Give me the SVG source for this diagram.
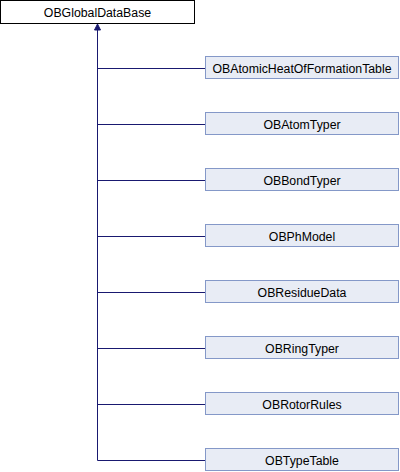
<svg xmlns="http://www.w3.org/2000/svg" width="400" height="472" viewBox="0 0 400 472">
<style>
.n rect{fill:#e8ecf5;stroke:#8498c8;stroke-width:1}
.r rect{fill:#ffffff;stroke:#000000;stroke-width:1}
text{font-family:"Liberation Sans",Arial,sans-serif;font-size:12.3px;text-anchor:middle;fill:#000000}
.e{stroke:#191970;stroke-width:1;fill:none}
</style>
<g id="connectors">
<path class="e" d="M97.5,29 V460.5"/>
<polygon points="97.5,24 94.5,30 100.5,30" fill="#191970" stroke="#191970"/>
<path class="e" d="M97.5,68.5 H205"/>
<path class="e" d="M97.5,124.5 H205"/>
<path class="e" d="M97.5,180.5 H205"/>
<path class="e" d="M97.5,236.5 H205"/>
<path class="e" d="M97.5,292.5 H205"/>
<path class="e" d="M97.5,348.5 H205"/>
<path class="e" d="M97.5,404.5 H205"/>
<path class="e" d="M97.5,460.5 H205"/>
</g>
<g id="OBGlobalDataBase" class="r"><rect x="0.5" y="0.5" width="194" height="23"/><text x="97.5" y="16.5">OBGlobalDataBase</text></g>
<g id="OBAtomicHeatOfFormationTable" class="n"><rect x="205.5" y="56.5" width="193" height="22"/><text x="302" y="72.5">OBAtomicHeatOfFormationTable</text></g>
<g id="OBAtomTyper" class="n"><rect x="205.5" y="112.5" width="193" height="22"/><text x="302" y="128.5">OBAtomTyper</text></g>
<g id="OBBondTyper" class="n"><rect x="205.5" y="168.5" width="193" height="22"/><text x="302" y="184.5">OBBondTyper</text></g>
<g id="OBPhModel" class="n"><rect x="205.5" y="224.5" width="193" height="22"/><text x="302" y="240.5">OBPhModel</text></g>
<g id="OBResidueData" class="n"><rect x="205.5" y="280.5" width="193" height="22"/><text x="302" y="296.5">OBResidueData</text></g>
<g id="OBRingTyper" class="n"><rect x="205.5" y="336.5" width="193" height="22"/><text x="302" y="352.5">OBRingTyper</text></g>
<g id="OBRotorRules" class="n"><rect x="205.5" y="392.5" width="193" height="22"/><text x="302" y="408.5">OBRotorRules</text></g>
<g id="OBTypeTable" class="n"><rect x="205.5" y="448.5" width="193" height="22"/><text x="302" y="464.5">OBTypeTable</text></g>
</svg>
